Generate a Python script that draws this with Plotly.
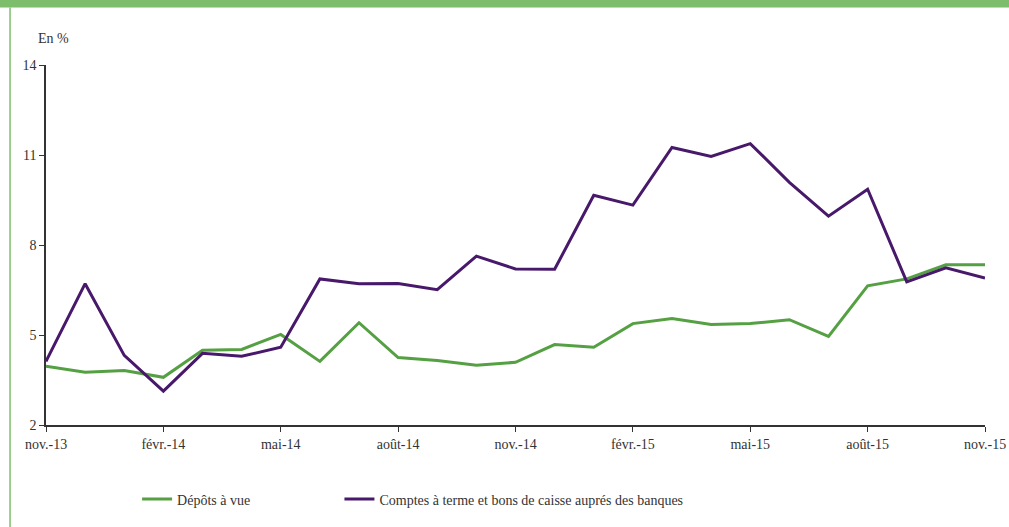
import plotly.graph_objects as go

months = ["nov.-13", "déc.-13", "janv.-14", "févr.-14", "mars-14", "avr.-14", "mai-14",
          "juin-14", "juil.-14", "août-14", "sept.-14", "oct.-14", "nov.-14", "déc.-14",
          "janv.-15", "févr.-15", "mars-15", "avr.-15", "mai-15", "juin-15", "juil.-15",
          "août-15", "sept.-15", "oct.-15", "nov.-15"]

depots_a_vue = [3.96, 3.76, 3.82, 3.59, 4.49, 4.52, 5.02, 4.12, 5.41, 4.25, 4.15, 3.99,
                4.09, 4.68, 4.59, 5.38, 5.55, 5.35, 5.38, 5.51, 4.95, 6.64, 6.87, 7.34, 7.34]

comptes_a_terme = [4.12, 6.71, 4.32, 3.13, 4.39, 4.29, 4.59, 6.87, 6.71, 6.72, 6.51, 7.63,
                   7.20, 7.19, 9.66, 9.33, 11.25, 10.95, 11.38, 10.09, 8.96, 9.86, 6.77, 7.24, 6.90]

tick_months = months[::3]
y_ticks = [2, 5, 8, 11, 14]

font_family = '"Liberation Serif", "Times New Roman", serif'
txt_color = "#333333"
fs = 14

fig = go.Figure()
fig.add_trace(go.Scatter(x=months, y=depots_a_vue, mode="lines",
                         name="Dépôts à vue", legend="legend",
                         line=dict(color="#55a043", width=3)))
fig.add_trace(go.Scatter(x=months, y=comptes_a_terme, mode="lines",
                         name="Comptes à terme et bons de caisse auprés des banques",
                         legend="legend2",
                         line=dict(color="#48196a", width=3)))

legend_common = dict(orientation="h", yanchor="middle", y=-0.207, xanchor="left",
                     font=dict(family=font_family, size=fs, color=txt_color),
                     itemwidth=30, bgcolor="rgba(0,0,0,0)", borderwidth=0)

fig.update_layout(
    width=1009, height=527,
    margin=dict(l=46, r=24, t=65, b=100),
    paper_bgcolor="white", plot_bgcolor="white",
    font=dict(family=font_family, size=fs, color=txt_color),
    showlegend=True,
    legend=dict(x=0.097, **legend_common),
    legend2=dict(x=0.3125, **legend_common),
    xaxis=dict(type="category", categoryorder="array", categoryarray=months,
               range=[0, len(months) - 1], automargin=False,
               tickmode="array", tickvals=tick_months, ticktext=tick_months,
               showgrid=False, zeroline=False,
               showline=True, linecolor=txt_color, linewidth=1.5,
               ticks="outside", ticklen=5, tickcolor=txt_color, tickwidth=1,
               tickfont=dict(family=font_family, size=fs, color=txt_color)),
    yaxis=dict(range=[2, 14], tickmode="array", tickvals=y_ticks, automargin=False,
               showgrid=False, zeroline=False,
               showline=True, linecolor=txt_color, linewidth=1.5,
               ticks="outside", ticklen=5, tickcolor=txt_color, tickwidth=1,
               tickfont=dict(family=font_family, size=fs, color=txt_color)),
    shapes=[
        dict(type="rect", xref="paper", yref="paper", x0=-0.06, x1=1.04,
             y0=1.160, y1=1.20, fillcolor="#7dbe6d", line=dict(width=0), layer="below"),
        dict(type="line", xref="paper", yref="paper", x0=-0.0383, x1=-0.0383,
             y0=-0.3, y1=1.16, line=dict(color="#7dbe6d", width=1.5)),
    ],
    annotations=[
        dict(text="En %", xref="paper", yref="paper", x=0.0075, y=1.075,
             xanchor="center", yanchor="middle", showarrow=False,
             font=dict(family=font_family, size=fs, color=txt_color)),
    ],
)

fig.write_html("out.html", config={"displayModeBar": False},
               post_script="document.body.style.margin='0';")
